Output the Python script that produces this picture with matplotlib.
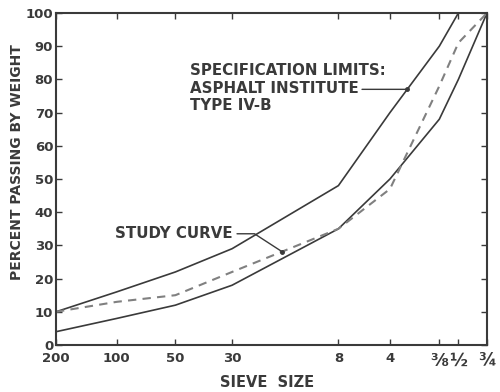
import numpy as np
import matplotlib
matplotlib.use('Agg')
from matplotlib import pyplot as plt
from matplotlib.ticker import NullLocator

# sieve sizes and their openings in mm
sieve_labels = ['200', '100', '50', '30', '8', '4', '\u215c', '\u00bd', '\u00be']
sieve_mm = [0.075, 0.15, 0.3, 0.6, 2.36, 4.75, 9.5, 12.5, 19.0]

# Asphalt Institute type IV-b band, percent passing
spec_upper = [10, 16, 22, 29, 48, 70, 90, 100, 100]
spec_lower = [4, 8, 12, 18, 35, 50, 68, 80, 100]
study_curve = [10, 13, 15, 22, 35, 47, 78, 91, 100]

INK = '#3a3a3a'
plt.rcParams['font.family'] = ['DejaVu Sans']
plt.rcParams['font.weight'] = 'bold'


def fwd(x):
    return -np.power(np.clip(x, 1e-9, None), -0.05)


def inv(y):
    return np.power(np.clip(-y, 1e-9, None), -20.0)


def point_on(ax, xs, ys, i, t):
    # point a fraction t along segment i, measured on screen
    tr = ax.transData
    p0 = tr.transform((xs[i], ys[i]))
    p1 = tr.transform((xs[i + 1], ys[i + 1]))
    return tr.inverted().transform(p0 + t * (p1 - p0))


fig = plt.figure(figsize=(5.0, 3.92), dpi=100)
ax = fig.add_axes([0.112, 0.1199, 0.862, 0.847])

ax.set_xscale('function', functions=(fwd, inv))
ax.set_xlim(sieve_mm[0], sieve_mm[-1])
ax.set_ylim(0, 100)

ax.plot(sieve_mm, spec_upper, color=INK, lw=1.2)
ax.plot(sieve_mm, spec_lower, color=INK, lw=1.2)
ax.plot(sieve_mm, study_curve, color='#808080', lw=1.5, dashes=(4, 3))

ax.set_xticks(sieve_mm)
ax.set_xticklabels(sieve_labels)
ax.xaxis.set_minor_locator(NullLocator())
ax.set_yticks(range(0, 101, 10))
ax.tick_params(direction='in', top=True, right=True, length=4, width=1,
               color=INK, labelcolor=INK, labelsize=9.5)
ax.tick_params(axis='x', pad=5)
ax.tick_params(axis='y', pad=2)
for lab in ax.get_xticklabels()[6:]:
    lab.set_fontsize(12.5)
for s in ax.spines.values():
    s.set_color(INK)
    s.set_linewidth(1.5)

# specification limits callout
ax.text(0.311, 0.774, 'SPECIFICATION LIMITS:\nASPHALT INSTITUTE\nTYPE IV-B',
        transform=ax.transAxes, fontsize=10.8, color=INK, va='center',
        ha='left', linespacing=1.2)
tip = point_on(ax, sieve_mm, spec_upper, 5, 0.35)
ax.annotate('', xy=tip, xytext=(0.71, tip[1] / 100.0),
            textcoords='axes fraction',
            arrowprops=dict(arrowstyle='-', color=INK, lw=1, shrinkA=0, shrinkB=0))
ax.plot(*tip, 'o', color=INK, ms=2.5)

# study curve callout
ax.text(0.137, 0.335, 'STUDY CURVE', transform=ax.transAxes, fontsize=10.8,
        color=INK, va='center', ha='left')
tip2 = point_on(ax, sieve_mm, study_curve, 3, 0.47)
ax.annotate('', xy=tip2, xytext=(0.42, 0.335), textcoords='axes fraction',
            arrowprops=dict(arrowstyle='-', color=INK, lw=1, shrinkA=0, shrinkB=0,
                            connectionstyle='angle,angleA=0,angleB=147,rad=0'))
ax.plot(*tip2, 'o', color=INK, ms=2.5)

fig.text(0.034, 0.587, 'PERCENT PASSING BY WEIGHT', rotation=90, ha='center',
         va='center', fontsize=10, color=INK)
fig.text(0.534, 0.004, 'SIEVE  SIZE', ha='center', va='bottom', fontsize=10.5,
         color=INK)

fig.savefig('out.png', dpi=100)
